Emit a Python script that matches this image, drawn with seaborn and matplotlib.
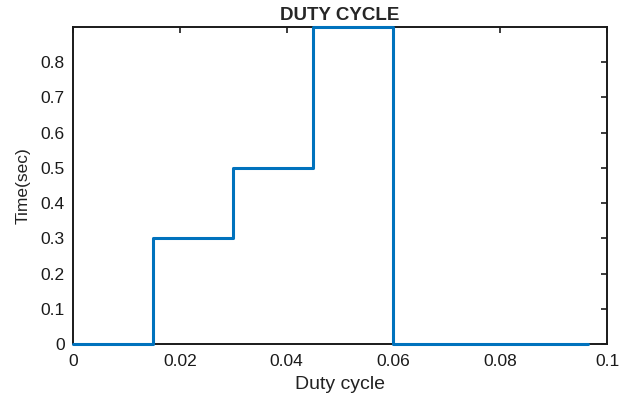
import matplotlib
matplotlib.use("Agg")
import matplotlib.pyplot as plt
import seaborn as sns
import pandas as pd

# Step profile: duty cycle breakpoints and the time level held from each one
duty_cycle = [0.0, 0.015, 0.030, 0.045, 0.060, 0.0965]
time_sec = [0.0, 0.3, 0.5, 0.9, 0.0, 0.0]

x_ticks = [0, 0.02, 0.04, 0.06, 0.08, 0.1]
x_tick_labels = ["0", "0.02", "0.04", "0.06", "0.08", "0.1"]
y_ticks = [0, 0.1, 0.2, 0.3, 0.4, 0.5, 0.6, 0.7, 0.8]
y_tick_labels = ["0", "0.1", "0.2", "0.3", "0.4", "0.5", "0.6", "0.7", "0.8"]

sns.set_style("white")
plt.rcParams["font.family"] = ["Liberation Sans", "DejaVu Sans"]

df = pd.DataFrame({"Duty cycle": duty_cycle, "Time(sec)": time_sec})

fig = plt.figure(figsize=(6.19, 3.94), dpi=100)
ax = fig.add_axes([73 / 619, 1 - 344 / 394, (607 - 73) / 619, (344 - 27) / 394])

sns.lineplot(data=df, x="Duty cycle", y="Time(sec)", drawstyle="steps-post",
             color="#0072BD", linewidth=2.2, ax=ax, clip_on=False, zorder=5)

ax.set_xlim(0, 0.1)
ax.set_ylim(0, 0.9)
ax.set_xticks(x_ticks)
ax.set_xticklabels(x_tick_labels)
ax.set_yticks(y_ticks)
ax.set_yticklabels(y_tick_labels)

for side in ["top", "right", "bottom", "left"]:
    ax.spines[side].set_visible(True)
    ax.spines[side].set_color("#1a1a1a")
    ax.spines[side].set_linewidth(1.4)

ax.tick_params(direction="in", length=4, width=1.2, top=True, right=True,
               labelsize=12.5, colors="#1a1a1a", pad=6)
ax.tick_params(axis="x", pad=7)

ax.set_xlabel("Duty cycle", fontsize=14, color="#222222", labelpad=5)
ax.set_ylabel("Time(sec)", fontsize=12.5, color="#222222", labelpad=7)
ax.set_title("DUTY CYCLE", fontsize=13.5, fontweight="bold", pad=5)

fig.savefig("out.png", dpi=100, facecolor="white")
